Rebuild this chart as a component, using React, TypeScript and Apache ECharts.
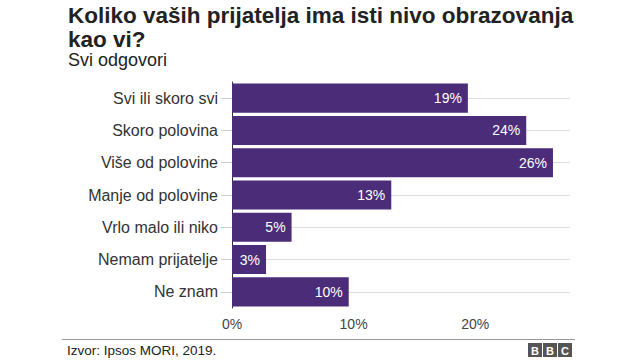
import React, { useEffect, useRef } from "react";
import * as echarts from "echarts";

const categories = [
  "Svi ili skoro svi",
  "Skoro polovina",
  "Više od polovine",
  "Manje od polovine",
  "Vrlo malo ili niko",
  "Nemam prijatelje",
  "Ne znam",
];
const values = [19.4, 24.2, 26.4, 13.1, 4.9, 2.8, 9.6];
const titleText = "Koliko vaših prijatelja ima isti nivo obrazovanja\nkao vi?";
const subtitleText = "Svi odgovori";
const sourceText = "Izvor: Ipsos MORI, 2019.";

const FONT = "'Liberation Sans', Arial, Helvetica, sans-serif";
const PURPLE = "#4b2c79";

export default function App() {
  const ref = useRef<HTMLDivElement>(null);
  useEffect(() => {
    document.body.style.margin = "0";
    const chart = echarts.init(ref.current!, null, { renderer: "svg" });
    const bbc = ["B", "B", "C"].map((ch, i) => ({
      type: "group",
      left: 528 + i * 15,
      top: 343,
      children: [
        { type: "rect", shape: { x: 0, y: 0, width: 14, height: 14 }, style: { fill: "#555" } },
        {
          type: "text",
          x: 7,
          y: 7.5,
          style: {
            text: ch,
            fill: "#fff",
            font: `bold 11px ${FONT}`,
            align: "center",
            verticalAlign: "middle",
          },
        },
      ],
    }));
    chart.setOption({
      animation: false,
      textStyle: { fontFamily: FONT },
      title: [
        {
          text: titleText,
          left: 63,
          top: -1,
          textStyle: { fontSize: 22.5, fontWeight: "bold", color: "#222", lineHeight: 23.5, fontFamily: FONT },
        },
        {
          text: subtitleText,
          left: 63,
          top: 46,
          textStyle: { fontSize: 18, fontWeight: "normal", color: "#222", fontFamily: FONT },
        },
      ],
      grid: { left: 232, right: 70, top: 82, bottom: 52, containLabel: false },
      xAxis: {
        type: "value",
        min: 0,
        max: 27.8,
        interval: 10,
        axisLine: { show: false },
        axisTick: { show: false },
        splitLine: { show: false },
        axisLabel: {
          formatter: (v: number) => (v % 10 === 0 ? v + "%" : ""),
          showMaxLabel: false,
          fontSize: 14,
          color: "#444",
          margin: 9,
          fontFamily: FONT,
        },
      },
      yAxis: {
        type: "category",
        data: categories,
        inverse: true,
        axisLine: { show: true, lineStyle: { color: "#333", width: 1 } },
        axisTick: { show: true, alignWithLabel: true, length: 11, lineStyle: { color: "#ccc" } },
        splitLine: { show: true, alignWithLabel: true, lineStyle: { color: "#ddd" } },
        axisLabel: { fontSize: 16, color: "#333", margin: 14, fontFamily: FONT },
      },
      series: [
        {
          type: "bar",
          data: values,
          barCategoryGap: "10%",
          itemStyle: { color: PURPLE },
          label: {
            show: true,
            position: "insideRight",
            formatter: (p: any) => Math.round(p.value) + "%",
            color: "#fff",
            fontSize: 14,
            fontFamily: FONT,
            distance: 6,
          },
        },
      ],
      graphic: [
        {
          type: "line",
          shape: { x1: 62, y1: 339.5, x2: 575, y2: 339.5 },
          style: { stroke: "#999", lineWidth: 1 },
        },
        {
          type: "text",
          left: 67,
          top: 343,
          style: { text: sourceText, fill: "#222", font: `13.5px ${FONT}` },
        },
        ...bbc,
      ],
    });
    return () => chart.dispose();
  }, []);
  return <div ref={ref} style={{ width: 640, height: 360 }} />;
}
